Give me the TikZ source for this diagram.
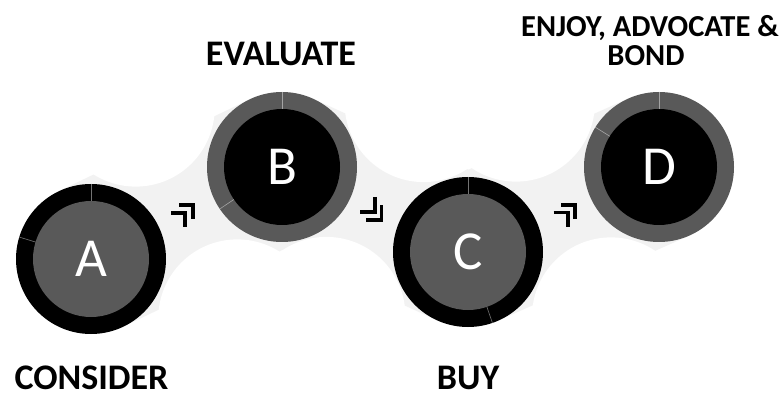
\documentclass[tikz,border=0pt]{standalone}
\usepackage{fontspec}
\setmainfont{Carlito}
\usetikzlibrary{calc}
\definecolor{midgray}{HTML}{595959}
\definecolor{bandgray}{HTML}{F2F2F2}
\begin{document}
\begin{tikzpicture}[x=1pt,y=-1pt,
  outerc/.style={circle,minimum size=150pt,inner sep=0pt,outer sep=0pt},
  letter/.style={inner sep=0pt,text=white,font=\fontsize{55}{60}\selectfont},
  lbl/.style={inner sep=0pt,font=\fontsize{36}{42}\selectfont\bfseries},
  lblsmall/.style={inner sep=0pt,font=\fontsize{30.5}{36}\selectfont\bfseries},
  segline/.style={white,opacity=0.45,line width=0.6pt},
  chev/.style={line width=3.8pt,line cap=butt,line join=miter,black}]
\useasboundingbox (0,0) rectangle (782,398);
\fill[white] (0,0) rectangle (782,398);
% centres
\coordinate (A) at (91,259);
\coordinate (B) at (282,167);
\coordinate (C) at (468,252);
\coordinate (D) at (659,167);
\coordinate (mAB) at ($(A)!0.5!(B)$);
\coordinate (mBC) at ($(B)!0.5!(C)$);
\coordinate (mCD) at ($(C)!0.5!(D)$);
% bands
\foreach \p/\q/\m in {A/B/mAB,B/C/mBC,C/D/mCD}{
  \fill[bandgray] ($(\p)!75pt!90:(\q)$) -- ($(\q)!75pt!-90:(\p)$) -- ($(\q)!75pt!90:(\p)$) -- ($(\p)!75pt!-90:(\q)$) -- cycle;
}
\foreach \p/\q/\m in {A/B/mAB,B/C/mBC,C/D/mCD}{
  \fill[white] ($(\m)!117pt!90:(\q)$) circle (79pt);
  \fill[white] ($(\m)!117pt!-90:(\q)$) circle (79pt);
}
% circles
\node[outerc,fill=black] (nA) at (A) {};
\fill[midgray] (A) circle (58pt);
\node[outerc,fill=midgray] (nB) at (B) {};
\fill[black] (B) circle (58pt);
\node[outerc,fill=black] (nC) at (C) {};
\fill[midgray] (C) circle (58pt);
\node[outerc,fill=midgray] (nD) at (D) {};
\fill[black] (D) circle (58pt);
% segment dividers
\foreach \c/\a in {A/90,A/163,B/90,B/214,C/90,C/289,D/90,D/148}{
  \draw[segline] ($(\c)+(\a:58pt)$) -- ($(\c)+(\a:75pt)$);
}
% letters
\node[letter] (lA) at (A) {A};
\node[letter] (lB) at (B) {B};
\node[letter] (lC) at (C) {C};
\node[letter] (lD) at (D) {D};
% chevrons
\coordinate (ab1) at (195,203.3);
\coordinate (ab2) at (187,211);
\coordinate (cd1) at (577,203.3);
\coordinate (cd2) at (569.7,210.7);
\foreach \k in {ab1,ab2,cd1,cd2}{
  \draw[chev] ($(\k)+(-16,1.9)$) -- ($(\k)+(-1.9,1.9)$) -- ($(\k)+(-1.9,16)$);
}
\coordinate (bc1) at (376.7,214);
\coordinate (bc2) at (383.3,222.3);
\foreach \k in {bc1,bc2}{
  \draw[chev] ($(\k)+(-1.9,-17)$) -- ($(\k)+(-1.9,-1.9)$) -- ($(\k)+(-17,-1.9)$);
}
% labels
\node[lbl,anchor=base] (consider) at (91.5,389.5) {CONSIDER};
\node[lbl,anchor=base] (evaluate) at (281,66) {EVALUATE};
\node[lbl,anchor=base] (buy) at (468,389.5) {BUY};
\node[lblsmall,anchor=base] (enjoy) at (650,37) {ENJOY, ADVOCATE \&};
\node[lblsmall,anchor=base] (bond) at (646,66) {BOND};
\end{tikzpicture}
\end{document}
